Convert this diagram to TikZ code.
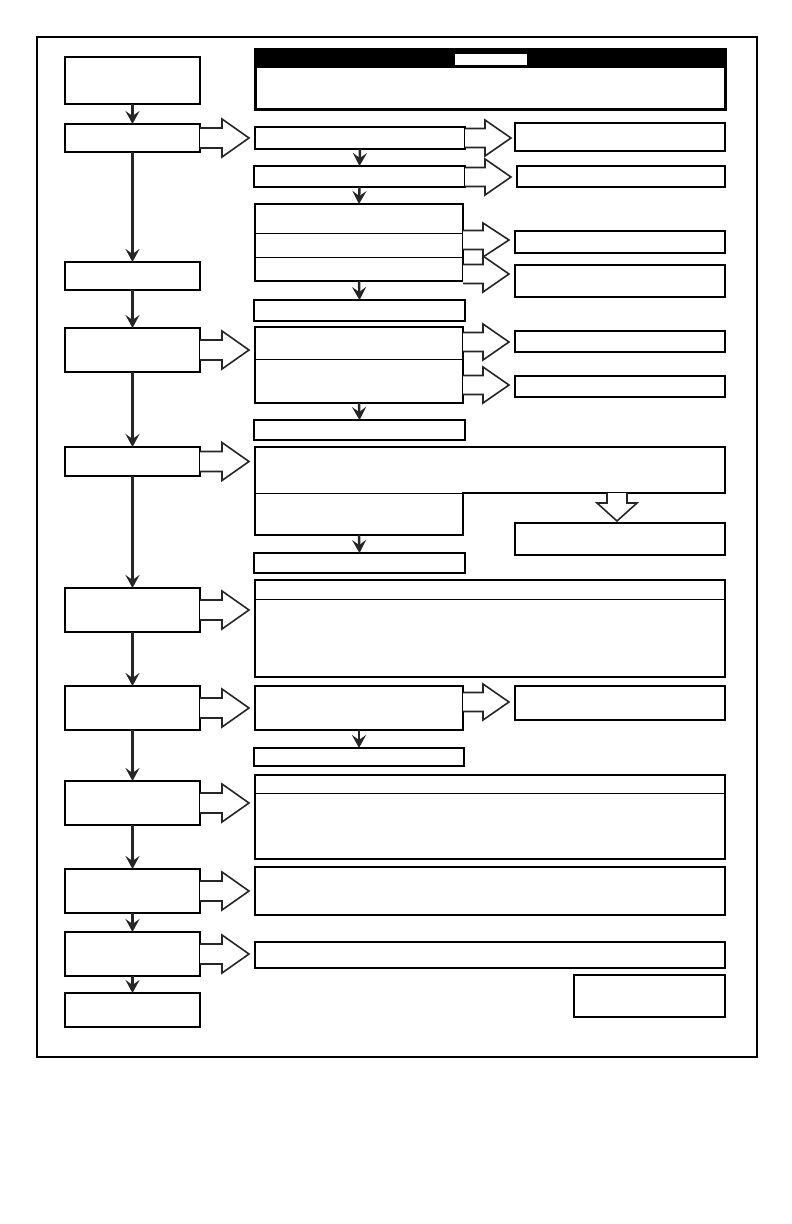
\documentclass[tikz,border=0pt]{standalone}
\usetikzlibrary{arrows.meta,calc}
\begin{document}
\begin{tikzpicture}[x=1pt,y=-1pt,
  box/.style={draw=black,line width=2.5pt,fill=white,inner sep=0pt,outer sep=0pt,anchor=north west},
  ghost/.style={inner sep=0pt,outer sep=0pt,anchor=north west},
  arr/.style={line width=2.4pt,draw=black!85,-{Stealth[length=13pt,width=14pt,inset=5pt]}},
  hollow/.style={draw=black!85,line width=1.6pt,fill=white,line join=miter},
  thinline/.style={line width=1pt}]
\newcommand\bx[6][box]{\pgfmathsetmacro\bw{#5-#3}\pgfmathsetmacro\bh{#6-#4}\node[#1,minimum width=\bw pt,minimum height=\bh pt] (#2) at (#3,#4) {};}
% \harr{start}{shaft length}{head length}{shaft half}{head half}
\newcommand\harr[5]{\pgfmathsetmacro\hd{#5-#4}\draw[hollow] (#1) ++(0,-#4) -- ++(#2,0) -- ++(0,-\hd) -- ++(#3,#5) -- ++(-#3,#5) -- ++(0,-\hd) -- ++(-#2,0);}
\useasboundingbox (0,0) rectangle (792,1224);
\draw[line width=1.4pt] (37,37) rectangle (757,1057);
% left column
\bx{L1}{65}{57}{200}{104}
\bx{L2}{65}{124}{200}{152}
\bx{L3}{65}{262}{200}{290}
\bx{L4}{65}{328}{200}{372}
\bx{L5}{65}{447}{200}{476}
\bx{L6}{65}{588}{200}{632}
\bx{L7}{65}{686}{200}{730}
\bx{L8}{65}{781}{200}{825}
\bx{L9}{65}{869}{200}{913}
\bx{L10}{65}{932}{200}{976}
\bx{L11}{65}{993}{200}{1027}
\draw[arr] (L1.south) -- (L2.north);
\draw[arr] (L2.south) -- (L3.north);
\draw[arr] (L3.south) -- (L4.north);
\draw[arr] (L4.south) -- (L5.north);
\draw[arr] (L5.south) -- (L6.north);
\draw[arr] (L6.south) -- (L7.north);
\draw[arr] (L7.south) -- (L8.north);
\draw[arr] (L8.south) -- (L9.north);
\draw[arr] (L9.south) -- (L10.north);
\draw[arr] (L10.south) -- (L11.north);
% header
\bx[box,line width=3pt]{hdr}{255}{49}{725}{109}
\fill[black] (hdr.north west) rectangle (725,68);
\fill[white] (455,54) rectangle (527,65);
% column 2
\bx{B1}{255}{127}{465}{149}
\bx{B2}{254}{166}{465}{187}
\bx{B3}{255}{204}{463}{281}
\draw[thinline] (255,233) -- (463,233);
\draw[thinline] (255,257) -- (463,257);
\bx{B4}{254}{300}{465}{321}
\bx{B5}{255}{327}{463}{403}
\draw[thinline] (255,359) -- (463,359);
\bx{B6}{254}{420}{465}{440}
\bx[ghost]{B7}{255}{447}{725}{493}
\bx[ghost]{B7b}{255}{493}{463}{535}
\draw[line width=2.5pt,line join=miter] (255,447) -- (725,447) -- (725,493) -- (463,493) -- (463,535) -- (255,535) -- cycle;
\draw[thinline] (255,493) -- (463,493);
\bx{B8}{254}{553}{465}{573}
\bx[box,line width=2.8pt]{B9}{255}{580}{725}{677}
\draw[thinline] (255,599) -- (725,599);
\bx{B10}{255}{686}{463}{730}
\bx{B11}{254}{748}{464}{766}
\bx{B12}{255}{775}{725}{859}
\draw[thinline] (255,793) -- (725,793);
\bx{B13}{255}{867}{725}{915}
\bx{B14}{255}{942}{725}{968}
\bx{B15}{574}{975}{725}{1017}
\draw[arr] (B1.south) -- (B2.north);
\draw[arr] (B2.south) -- (B3.north);
\draw[arr] (B3.south) -- (B4.north);
\draw[arr] (B5.south) -- (B6.north);
\draw[arr] (B7b.south) -- (B8.north);
\draw[arr] (B10.south) -- (B11.north);
% right column
\bx{R1}{515}{123}{725}{151}
\bx{R2}{517}{166}{725}{187}
\bx{R3}{515}{231}{725}{253}
\bx{R4}{515}{265}{725}{297}
\bx{R5}{515}{331}{725}{352}
\bx{R6}{515}{376}{725}{397}
\bx{R7}{515}{523}{725}{555}
\bx{R8}{515}{686}{725}{720}
% hollow arrows left column -> column 2
\harr{L2.east}{22}{27}{10}{19}
\harr{L4.east}{22}{27}{10}{19}
\harr{L5.east}{22}{27}{10}{19}
\harr{L6.east}{22}{27}{10}{19}
\harr{L7.east}{22}{27}{10}{19}
\harr{L8.east}{22}{27}{10}{19}
\harr{L9.east}{22}{27}{10}{19}
\harr{L10.east}{22}{27}{10}{19}
% hollow arrows column 2 -> right
\harr{B1.east |- 0,138}{20}{26}{9.5}{18}
\harr{B2.east |- 0,177}{20}{26}{9.5}{18}
\harr{B3.east |- 0,240}{20}{26}{9.5}{17}
\harr{B3.east |- 0,274}{20}{26}{9.5}{18}
\harr{B5.east |- 0,342}{20}{26}{9.5}{18}
\harr{B5.east |- 0,385}{20}{26}{9.5}{18}
\harr{B10.east |- 0,702}{20}{26}{9.5}{18}
% hollow down arrow
\draw[hollow] (617,493) ++(-10,0) -- ++(0,10) -- ++(-10,0) -- ++(20,18) -- ++(20,-18) -- ++(-10,0) -- ++(0,-10);
\end{tikzpicture}
\end{document}
